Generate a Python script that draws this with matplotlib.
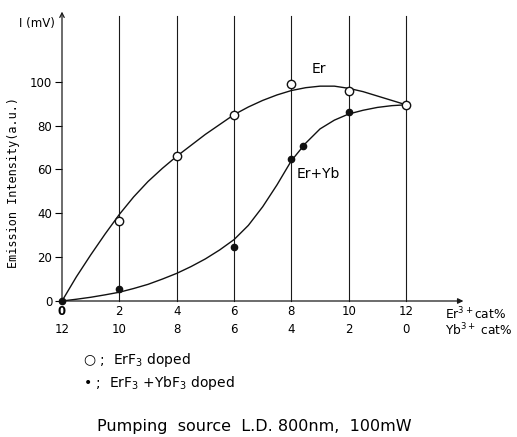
import matplotlib
matplotlib.use("Agg")
import matplotlib.pyplot as plt
import numpy as np

# measured points
er_x = [0, 2, 4, 6, 8, 10, 12]
er_y = [0, 36.5, 66, 85, 98.9, 95.6, 89.5]
eryb_x = [0, 2, 6, 8, 8.4, 10, 12]
eryb_y = [0, 5.5, 24.8, 65, 70.5, 86, 89.5]

# hand-drawn trend curves, read every 0.5 cat%
curve_x = [0, 0.5, 1, 1.5, 2, 2.5, 3, 3.5, 4, 4.5, 5, 5.5, 6,
           6.5, 7, 7.5, 8, 8.5, 9, 9.5, 10, 10.5, 11, 11.5, 12]
er_curve = [0, 11, 21, 30.5, 39.5, 47.5, 54.5, 60.5, 66, 71, 76, 80.5, 85,
            88.5, 91.5, 94, 96, 97.3, 98, 98, 97, 95.5, 93.5, 91.5, 89.5]
eryb_curve = [0, 0.8, 1.7, 2.8, 4, 5.7, 7.6, 10, 12.6, 15.7, 19.2, 23.3, 28,
              34.5, 43, 53, 64, 72, 78.5, 82.5, 85.3, 87, 88.3, 89.1, 89.5]

er_ticks = [0, 2, 4, 6, 8, 10, 12]
yb_ticks = [12, 10, 8, 6, 4, 2, 0]
y_ticks = [0, 20, 40, 60, 80, 100]

fig = plt.figure(figsize=(5.17, 4.37), dpi=100)
ax = fig.add_axes([62 / 517, 1 - 301 / 437, 401.4 / 517, 285 / 437])
ax.set_xlim(0, 14)
ax.set_ylim(0, 130)
for s in ax.spines.values():
    s.set_visible(False)

# grid verticals
for x in er_ticks[1:]:
    ax.plot([x, x], [0, 130], color="#1a1a1a", lw=0.8, clip_on=False)

# axes with arrows
ax.annotate("", xy=(14, 0), xytext=(0, 0),
            arrowprops=dict(arrowstyle="-|>", lw=0.9, color="#1a1a1a",
                            mutation_scale=8, shrinkA=0, shrinkB=0),
            annotation_clip=False)
ax.annotate("", xy=(0, 132), xytext=(0, 0),
            arrowprops=dict(arrowstyle="->", lw=0.9, color="#1a1a1a",
                            mutation_scale=8, shrinkA=0, shrinkB=0),
            annotation_clip=False)

ax.plot(curve_x, er_curve, color="#111111", lw=1.0, clip_on=False)
ax.plot(curve_x, eryb_curve, color="#111111", lw=1.0, clip_on=False)
ax.plot(eryb_x, eryb_y, "o", ms=4.5, color="#111111", clip_on=False, zorder=5)
ax.plot(er_x[1:], er_y[1:], "o", ms=6, mfc="white", mec="#111111", mew=1.0,
        clip_on=False, zorder=6)

ax.set_yticks(y_ticks)
ax.set_yticklabels([str(v) for v in y_ticks], fontsize=8.5)
ax.tick_params(axis="y", direction="out", length=5, width=0.8, pad=2)
ax.set_xticks([])

for er, yb in zip(er_ticks, yb_ticks):
    ax.text(er, -5, str(er), ha="center", va="center", fontsize=8.5,
            fontweight="bold" if er == 0 else "normal")
    ax.text(er, -13.2, str(yb), ha="center", va="center", fontsize=8.5)

ax.text(13.36, -5.8, "Er$^{3+}$cat%", ha="left", va="center", fontsize=8.8)
ax.text(13.36, -13.0, "Yb$^{3+}$ cat%", ha="left", va="center", fontsize=8.8)

ax.text(8.96, 106, "Er", ha="center", va="center", fontsize=10)
ax.text(8.2, 58, "Er+Yb", ha="left", va="center", fontsize=10)

fig.text(19 / 517, 1 - 23 / 437, "I (mV)", ha="left", va="center", fontsize=8.5)
fig.text(14 / 517, 1 - 182 / 437, "Emission Intensity(a.u.)", rotation=90,
         ha="center", va="center", fontsize=8.5, family="DejaVu Sans Mono")

fig.text(83 / 517, 1 - 360 / 437, "○ ;  ErF$_3$ doped", ha="left", va="center",
         fontsize=10)
fig.text(83 / 517, 1 - 383 / 437, "• ;  ErF$_3$ +YbF$_3$ doped", ha="left",
         va="center", fontsize=10)
fig.text(97 / 517, 1 - 427 / 437, "Pumping  source  L.D. 800nm,  100mW",
         ha="left", va="center", fontsize=11.5)

fig.savefig("out.png", dpi=100, facecolor="white")
